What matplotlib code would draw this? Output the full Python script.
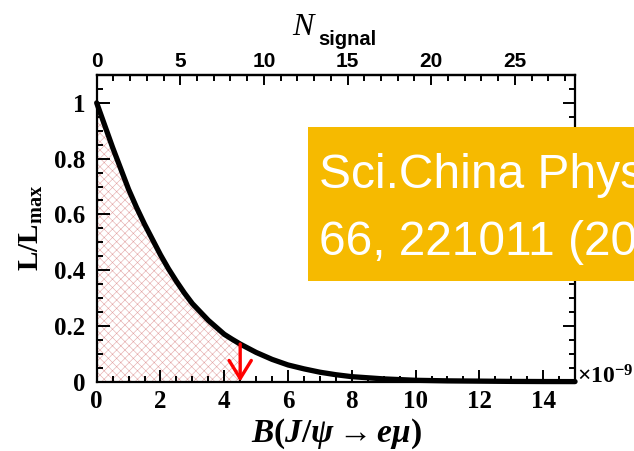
import numpy as np
import matplotlib
matplotlib.use("Agg")
import matplotlib.pyplot as plt
from matplotlib.patches import Rectangle, FancyArrowPatch

# Normalised likelihood scan vs branching fraction (units of 1e-9)
b_vals = [0, 0.25, 0.5, 0.75, 1, 1.25, 1.5, 1.75, 2, 2.25, 2.5, 2.75, 3, 3.25, 3.5,
          3.75, 4, 4.25, 4.5, 5, 5.5, 6, 6.5, 7, 7.5, 8, 9, 10, 11, 12, 13, 14, 15]
l_vals = [1.0, 0.92, 0.84, 0.765, 0.69, 0.625, 0.565, 0.51, 0.455, 0.405, 0.36, 0.318,
          0.28, 0.25, 0.22, 0.195, 0.17, 0.152, 0.135, 0.105, 0.08, 0.06, 0.046,
          0.034, 0.025, 0.018, 0.010, 0.005, 0.003, 0.002, 0.001, 0.0005, 0.0003]
upper_limit = 4.5          # 90% C.L. upper limit on B, x1e-9
nsig_max = 28.6            # N_signal corresponding to B = 15e-9
b_max = 15.0

x_ticks = [0, 2, 4, 6, 8, 10, 12, 14]
y_ticks = [0, 0.2, 0.4, 0.6, 0.8, 1.0]
y_tick_labels = ["0", "0.2", "0.4", "0.6", "0.8", "1"]
n_ticks = [0, 5, 10, 15, 20, 25]

plt.rcParams["mathtext.fontset"] = "custom"
plt.rcParams["mathtext.rm"] = "Liberation Serif:bold"
plt.rcParams["mathtext.it"] = "Liberation Serif:italic:bold"
plt.rcParams["mathtext.bf"] = "Liberation Serif:bold"
plt.rcParams["hatch.linewidth"] = 0.4

fig = plt.figure(figsize=(6.34, 4.51), dpi=100)
ax = fig.add_axes([0.1525, 0.1537, 0.907 - 0.1525, 0.8337 - 0.1537])

b = np.array(b_vals)
l = np.array(l_vals)

# hatched area up to the upper limit
mask = b <= upper_limit
ax.fill_between(b[mask], 0, l[mask], facecolor="none", edgecolor="#e3a5a5",
                hatch="xxxx", linewidth=0)

ax.plot(b, l, color="black", lw=3.8, solid_capstyle="round", solid_joinstyle="round",
        zorder=3, clip_on=False)

# arrow marking the upper limit
y_ul = np.interp(upper_limit, b, l)
arr = FancyArrowPatch((upper_limit, y_ul), (upper_limit, 0),
                      arrowstyle="->,head_length=0.65,head_width=0.4",
                      mutation_scale=20, color="red", lw=2.4, zorder=4,
                      shrinkA=0, shrinkB=0)
ax.add_patch(arr)

ax.set_xlim(0, b_max)
ax.set_ylim(0, 1.1)

serif_tick = dict(family="Liberation Serif", weight="bold", size=18)
ax.set_xticks(x_ticks)
ax.set_xticklabels([str(t) for t in x_ticks], **serif_tick)
ax.set_yticks(y_ticks)
ax.set_yticklabels(y_tick_labels, **serif_tick)
ax.set_xticks(np.arange(0, 15.01, 0.5), minor=True)
ax.set_yticks(np.arange(0, 1.101, 0.05), minor=True)

ax.tick_params(axis="both", which="major", direction="in", length=9, width=1.4)
ax.tick_params(axis="both", which="minor", direction="in", length=4.5, width=1.4)
ax.tick_params(axis="x", which="both", top=False, bottom=True, pad=6)
ax.tick_params(axis="y", which="both", left=True, right=True, pad=8)
for s in ax.spines.values():
    s.set_linewidth(1.6)

# secondary axis: number of signal events
k = nsig_max / b_max
sec = ax.secondary_xaxis("top", functions=(lambda x: x * k, lambda n: n / k))
sec.set_xticks(n_ticks)
sec.set_xticklabels([str(t) for t in n_ticks], family="Liberation Sans",
                    weight="bold", size=15)
sec.set_xticks(np.arange(0, 28.01, 1), minor=True)
sec.tick_params(axis="x", which="major", direction="in", length=7, width=1.4, pad=3)
sec.tick_params(axis="x", which="minor", direction="in", length=4, width=1.4)
sec.spines["top"].set_linewidth(1.6)

fig.text(314 / 634, 1 - 35 / 451, "N", ha="right", va="baseline",
         family="Liberation Serif", style="italic", size=23)
fig.text(318 / 634, 1 - 45 / 451, "signal", ha="left", va="baseline",
         family="Liberation Sans", weight="bold", size=14.5)

fig.text(31 / 634, 1 - 228 / 451, r"$\mathrm{L/L_{max}}$", rotation=90,
         ha="center", va="center", size=21)
fig.text(336 / 634, 1 - 434 / 451, r"$B(J/\psi\rightarrow e\mu)$",
         ha="center", va="center", size=24)
fig.text(577 / 634, 1 - 383 / 451, r"$\times10^{-9}$", ha="left", va="baseline",
         size=17)

# journal reference banner
fig.patches.append(Rectangle((308 / 634, 1 - 281 / 451), 0.6, (281 - 127) / 451,
                             transform=fig.transFigure, facecolor="#F6BA00",
                             edgecolor="none", zorder=10))
fig.text(319 / 634, 1 - 188 / 451, "Sci.China Phys. Mech. Astron.", color="white",
         family="Liberation Sans", size=34.5, ha="left", va="baseline", zorder=11)
fig.text(319 / 634, 1 - 255 / 451, "66, 221011 (2023)", color="white",
         family="Liberation Sans", size=34.5, ha="left", va="baseline", zorder=11)

fig.savefig("out.png", dpi=100)
